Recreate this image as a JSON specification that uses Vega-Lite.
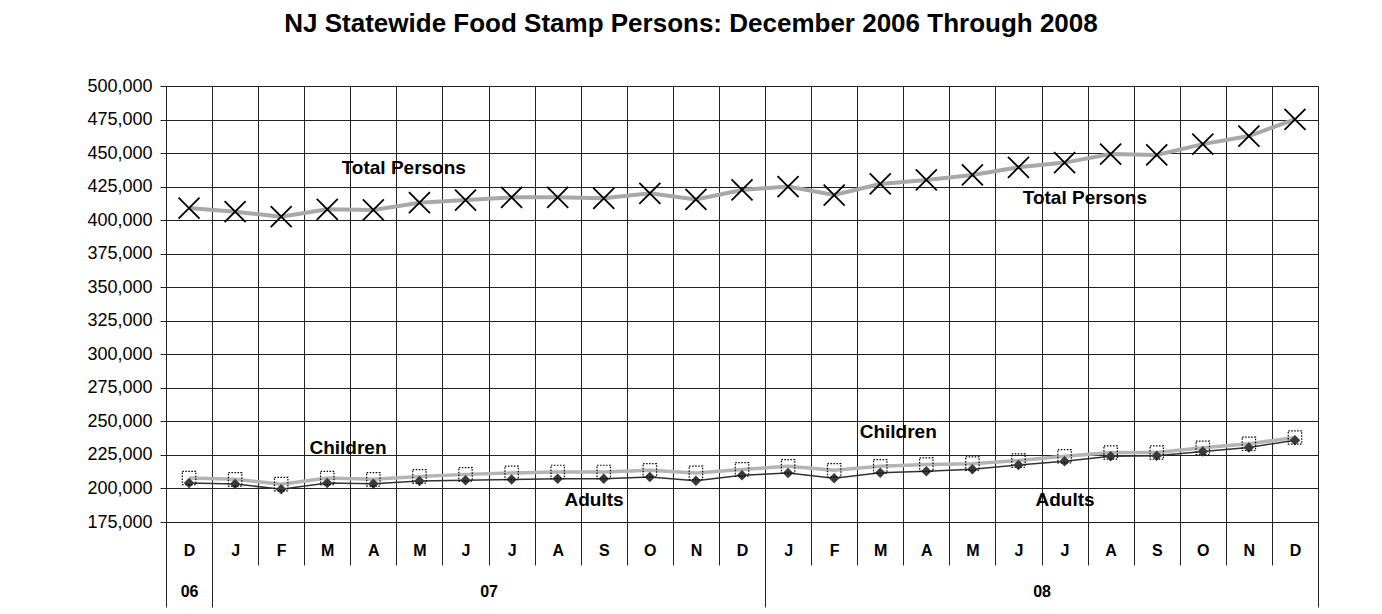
{
  "$schema": "https://vega.github.io/schema/vega-lite/v6.json",
  "width": 1152,
  "height": 436,
  "autosize": {"type": "none"},
  "padding": {"left": 166, "top": 86, "right": 64, "bottom": 92},
  "background": "white",
  "title": {
    "text": "NJ Statewide Food Stamp Persons: December 2006 Through 2008",
    "font": "Liberation Sans",
    "fontSize": 26,
    "fontWeight": "bold",
    "color": "black",
    "anchor": "middle",
    "offset": 40,
    "dx": -51
  },
  "datasets": {
    "series": [
      {"i": 0, "month": "2006-12", "series": "Total Persons", "value": 409000},
      {"i": 1, "month": "2007-01", "series": "Total Persons", "value": 406300},
      {"i": 2, "month": "2007-02", "series": "Total Persons", "value": 402600},
      {"i": 3, "month": "2007-03", "series": "Total Persons", "value": 408100},
      {"i": 4, "month": "2007-04", "series": "Total Persons", "value": 407600},
      {"i": 5, "month": "2007-05", "series": "Total Persons", "value": 413000},
      {"i": 6, "month": "2007-06", "series": "Total Persons", "value": 415000},
      {"i": 7, "month": "2007-07", "series": "Total Persons", "value": 417000},
      {"i": 8, "month": "2007-08", "series": "Total Persons", "value": 417000},
      {"i": 9, "month": "2007-09", "series": "Total Persons", "value": 416300},
      {"i": 10, "month": "2007-10", "series": "Total Persons", "value": 420000},
      {"i": 11, "month": "2007-11", "series": "Total Persons", "value": 415500},
      {"i": 12, "month": "2007-12", "series": "Total Persons", "value": 422500},
      {"i": 13, "month": "2008-01", "series": "Total Persons", "value": 425000},
      {"i": 14, "month": "2008-02", "series": "Total Persons", "value": 418700},
      {"i": 15, "month": "2008-03", "series": "Total Persons", "value": 427000},
      {"i": 16, "month": "2008-04", "series": "Total Persons", "value": 430000},
      {"i": 17, "month": "2008-05", "series": "Total Persons", "value": 433700},
      {"i": 18, "month": "2008-06", "series": "Total Persons", "value": 439400},
      {"i": 19, "month": "2008-07", "series": "Total Persons", "value": 442900},
      {"i": 20, "month": "2008-08", "series": "Total Persons", "value": 449300},
      {"i": 21, "month": "2008-09", "series": "Total Persons", "value": 448600},
      {"i": 22, "month": "2008-10", "series": "Total Persons", "value": 456700},
      {"i": 23, "month": "2008-11", "series": "Total Persons", "value": 462700},
      {"i": 24, "month": "2008-12", "series": "Total Persons", "value": 475100},
      {"i": 0, "month": "2006-12", "series": "Children", "value": 207800},
      {"i": 1, "month": "2007-01", "series": "Children", "value": 206800},
      {"i": 2, "month": "2007-02", "series": "Children", "value": 203200},
      {"i": 3, "month": "2007-03", "series": "Children", "value": 207800},
      {"i": 4, "month": "2007-04", "series": "Children", "value": 206800},
      {"i": 5, "month": "2007-05", "series": "Children", "value": 209000},
      {"i": 6, "month": "2007-06", "series": "Children", "value": 210500},
      {"i": 7, "month": "2007-07", "series": "Children", "value": 211600},
      {"i": 8, "month": "2007-08", "series": "Children", "value": 212300},
      {"i": 9, "month": "2007-09", "series": "Children", "value": 212300},
      {"i": 10, "month": "2007-10", "series": "Children", "value": 213500},
      {"i": 11, "month": "2007-11", "series": "Children", "value": 211600},
      {"i": 12, "month": "2007-12", "series": "Children", "value": 214200},
      {"i": 13, "month": "2008-01", "series": "Children", "value": 216500},
      {"i": 14, "month": "2008-02", "series": "Children", "value": 213500},
      {"i": 15, "month": "2008-03", "series": "Children", "value": 216500},
      {"i": 16, "month": "2008-04", "series": "Children", "value": 217800},
      {"i": 17, "month": "2008-05", "series": "Children", "value": 218500},
      {"i": 18, "month": "2008-06", "series": "Children", "value": 220800},
      {"i": 19, "month": "2008-07", "series": "Children", "value": 224000},
      {"i": 20, "month": "2008-08", "series": "Children", "value": 226800},
      {"i": 21, "month": "2008-09", "series": "Children", "value": 226800},
      {"i": 22, "month": "2008-10", "series": "Children", "value": 230300},
      {"i": 23, "month": "2008-11", "series": "Children", "value": 233300},
      {"i": 24, "month": "2008-12", "series": "Children", "value": 238000},
      {"i": 0, "month": "2006-12", "series": "Adults", "value": 204000},
      {"i": 1, "month": "2007-01", "series": "Adults", "value": 203300},
      {"i": 2, "month": "2007-02", "series": "Adults", "value": 199500},
      {"i": 3, "month": "2007-03", "series": "Adults", "value": 204000},
      {"i": 4, "month": "2007-04", "series": "Adults", "value": 203500},
      {"i": 5, "month": "2007-05", "series": "Adults", "value": 205500},
      {"i": 6, "month": "2007-06", "series": "Adults", "value": 206200},
      {"i": 7, "month": "2007-07", "series": "Adults", "value": 206700},
      {"i": 8, "month": "2007-08", "series": "Adults", "value": 207300},
      {"i": 9, "month": "2007-09", "series": "Adults", "value": 207300},
      {"i": 10, "month": "2007-10", "series": "Adults", "value": 208500},
      {"i": 11, "month": "2007-11", "series": "Adults", "value": 205700},
      {"i": 12, "month": "2007-12", "series": "Adults", "value": 209800},
      {"i": 13, "month": "2008-01", "series": "Adults", "value": 211500},
      {"i": 14, "month": "2008-02", "series": "Adults", "value": 207600},
      {"i": 15, "month": "2008-03", "series": "Adults", "value": 211800},
      {"i": 16, "month": "2008-04", "series": "Adults", "value": 212800},
      {"i": 17, "month": "2008-05", "series": "Adults", "value": 214300},
      {"i": 18, "month": "2008-06", "series": "Adults", "value": 217500},
      {"i": 19, "month": "2008-07", "series": "Adults", "value": 220300},
      {"i": 20, "month": "2008-08", "series": "Adults", "value": 224000},
      {"i": 21, "month": "2008-09", "series": "Adults", "value": 224300},
      {"i": 22, "month": "2008-10", "series": "Adults", "value": 227500},
      {"i": 23, "month": "2008-11", "series": "Adults", "value": 230500},
      {"i": 24, "month": "2008-12", "series": "Adults", "value": 236000}
    ],
    "notes": [
      {"text": "Total Persons", "i": 4.66, "value": 438900},
      {"text": "Total Persons", "i": 19.44, "value": 416500},
      {"text": "Children", "i": 3.45, "value": 230200},
      {"text": "Children", "i": 15.39, "value": 242100},
      {"text": "Adults", "i": 8.79, "value": 191400},
      {"text": "Adults", "i": 19.01, "value": 191400}
    ]
  },
  "data": {"name": "series"},
  "encoding": {
    "x": {"field": "i", "type": "quantitative", "scale": {"domain": [-0.5, 24.5], "nice": false, "zero": false}, "axis": null},
    "y": {
      "field": "value", "type": "quantitative",
      "scale": {"domain": [175000, 500000], "nice": false, "zero": false},
      "axis": {
        "values": [175000, 200000, 225000, 250000, 275000, 300000, 325000, 350000, 375000, 400000, 425000, 450000, 475000, 500000],
        "labelExpr": "format(datum.value, ',')", "title": null, "grid": true, "gridColor": "#222", "gridWidth": 1,
        "tickSize": 6, "tickColor": "#222", "domainColor": "#222", "labelPadding": 8,
        "labelFont": "Liberation Sans", "labelFontSize": 18, "labelColor": "black"
      }
    }
  },
  "layer": [
    {
      "transform": [{"filter": "datum.series === 'Total Persons'"}],
      "mark": {"type": "line", "color": "#a8a8a8", "strokeWidth": 4},
      "encoding": {
        "x": {
          "field": "i", "type": "quantitative", "scale": {"domain": [-0.5, 24.5], "nice": false, "zero": false},
          "axis": {
            "orient": "bottom", "title": null,
            "values": [-0.5, 0.5, 1.5, 2.5, 3.5, 4.5, 5.5, 6.5, 7.5, 8.5, 9.5, 10.5, 11.5, 12.5, 13.5, 14.5, 15.5, 16.5, 17.5, 18.5, 19.5, 20.5, 21.5, 22.5, 23.5, 24.5],
            "grid": true, "gridColor": "#222", "gridWidth": 1, "labels": false, "domain": false,
            "ticks": true, "tickColor": "#222",
            "tickSize": {"condition": {"test": "datum.value < 1 || datum.value == 12.5 || datum.value > 24", "value": 85}, "value": 43}
          }
        }
      }
    },
    {
      "transform": [{"filter": "datum.series === 'Total Persons'"}],
      "mark": {"type": "point", "shape": "M-1,-1L1,1M-1,1L1,-1", "filled": false, "color": "black", "strokeWidth": 1.8, "size": 441, "opacity": 1},
      "encoding": {
        "x": {
          "field": "i", "type": "quantitative", "scale": {"domain": [-0.5, 24.5], "nice": false, "zero": false},
          "axis": {
            "orient": "bottom", "title": null,
            "values": [0, 1, 2, 3, 4, 5, 6, 7, 8, 9, 10, 11, 12, 13, 14, 15, 16, 17, 18, 19, 20, 21, 22, 23, 24],
            "labelExpr": "substring('DJFMAMJJASONDJFMAMJJASOND', datum.value, datum.value + 1)",
            "grid": false, "ticks": false, "domain": false, "labelPadding": 20, "labelFlush": false, "labelOverlap": false,
            "labelFont": "Liberation Sans", "labelFontWeight": "bold", "labelFontSize": 16, "labelColor": "black"
          }
        }
      }
    },
    {
      "transform": [{"filter": "datum.series === 'Children'"}],
      "mark": {"type": "line", "color": "#b4b4b4", "strokeWidth": 3.5},
      "encoding": {
        "x": {
          "field": "i", "type": "quantitative", "scale": {"domain": [-0.5, 24.5], "nice": false, "zero": false},
          "axis": {
            "orient": "bottom", "title": null,
            "values": [0, 6.5, 18.5],
            "labelExpr": "datum.value == 0 ? '06' : datum.value == 6.5 ? '07' : '08'",
            "grid": false, "ticks": false, "domain": false, "labelPadding": 61, "labelFlush": false, "labelOverlap": false,
            "labelFont": "Liberation Sans", "labelFontWeight": "bold", "labelFontSize": 16, "labelColor": "black"
          }
        }
      }
    },
    {
      "transform": [{"filter": "datum.series === 'Adults'"}],
      "mark": {"type": "line", "color": "#333333", "strokeWidth": 1.5}
    },
    {
      "transform": [{"filter": "datum.series === 'Adults'"}],
      "mark": {"type": "point", "shape": "diamond", "filled": true, "color": "#3a3a3a", "size": 110, "opacity": 1}
    },
    {
      "transform": [{"filter": "datum.series === 'Children'"}],
      "mark": {"type": "point", "shape": "square", "filled": false, "color": "black", "strokeWidth": 1.2, "strokeDash": [1.5, 1.5], "size": 180, "opacity": 1}
    },
    {
      "data": {"name": "notes"},
      "mark": {"type": "text", "font": "Liberation Sans", "fontSize": 19, "fontWeight": "bold", "color": "black", "align": "center", "baseline": "middle"},
      "encoding": {"text": {"field": "text", "type": "nominal"}}
    }
  ],
  "resolve": {"axis": {"x": "independent"}},
  "config": {"view": {"stroke": "#222", "strokeWidth": 1}}
}
